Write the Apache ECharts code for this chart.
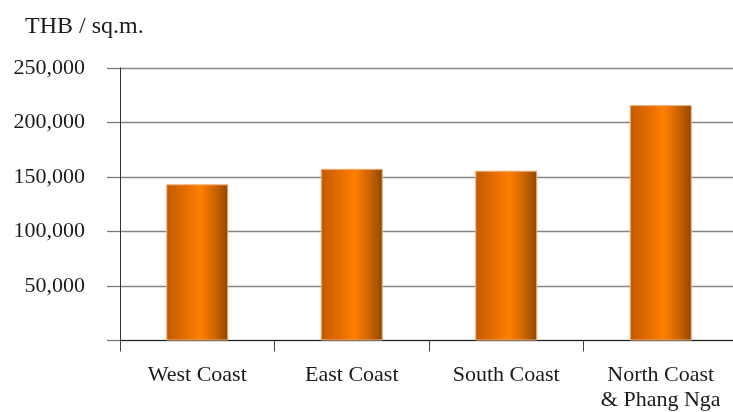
<!DOCTYPE html>
<html>
<head>
<meta charset="utf-8">
<script src="https://cdn.jsdelivr.net/npm/echarts@6/dist/echarts.min.js"></script>
<style>html,body{margin:0;padding:0;background:#fff}#c{width:733px;height:412px}</style>
</head>
<body>
<div id="c"></div>
<script>
const categories = ['West Coast', 'East Coast', 'South Coast', 'North Coast\n& Phang Nga'];
const values = [143300, 157500, 155800, 216000];
const unitLabel = 'THB / sq.m.';
const yMin = 0, yMax = 250000, yStep = 50000;

const FONT = 'Liberation Serif, DejaVu Serif, serif';
const chart = echarts.init(document.getElementById('c'), null, {renderer: 'canvas'});
chart.setOption({
  animation: false,
  backgroundColor: '#ffffff',
  title: {
    text: unitLabel, left: 20, top: 10,
    textStyle: {fontFamily: FONT, fontSize: 24, fontWeight: 'normal', color: '#1a1a1a'}
  },
  grid: {left: 120, width: 618, top: 68, bottom: 71.5, containLabel: false, outerBoundsMode: 'none'},
  xAxis: {
    type: 'category', data: categories, boundaryGap: true,
    axisLine: {show: true, lineStyle: {color: '#222', width: 1}},
    axisTick: {show: true, length: 11, alignWithLabel: false, lineStyle: {color: '#444'}},
    axisLabel: {fontFamily: FONT, fontSize: 22, color: '#1a1a1a', margin: 22, lineHeight: 25, interval: 0}
  },
  yAxis: {
    type: 'value', min: yMin, max: yMax, interval: yStep,
    axisLine: {show: true, lineStyle: {color: '#333', width: 1}},
    axisTick: {show: true, length: 13, lineStyle: {color: '#7a7a7a', width: 1.3}},
    splitLine: {show: true, lineStyle: {color: '#858585', width: 1.3}},
    axisLabel: {
      fontFamily: FONT, fontSize: 22, color: '#1a1a1a', margin: 35,
      formatter: v => v === 0 ? '' : v.toLocaleString('en-US')
    }
  },
  series: [{
    type: 'bar', data: values, barWidth: 62,
    itemStyle: {
      borderColor: '#f2b27a', borderWidth: 1,
      color: new echarts.graphic.LinearGradient(0, 0, 1, 0, [
        {offset: 0, color: '#c05c00'},
        {offset: 0.3, color: '#e46c00'},
        {offset: 0.55, color: '#ff8000'},
        {offset: 0.8, color: '#c86200'},
        {offset: 1, color: '#904600'}
      ])
    }
  }]
});
</script>
</body>
</html>
